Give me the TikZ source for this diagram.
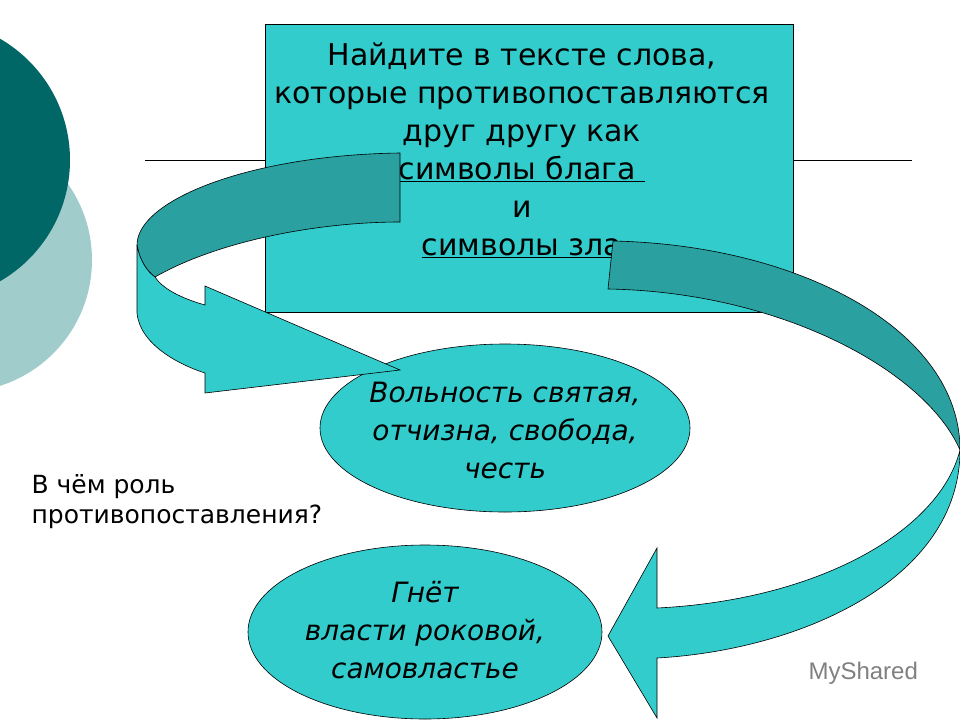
\documentclass[tikz,border=0pt]{standalone}
\usepackage{fontspec}
\usetikzlibrary{shapes.geometric}
\setmainfont{DejaVu Sans}
\newfontfamily\lib{Liberation Sans}
\begin{document}
\begin{tikzpicture}[x=1pt,y=-1pt,
  lt/.style={fill=teal1,draw=black,line width=0.6pt},
  dk/.style={fill=teal2,draw=black,line width=0.6pt}]
\definecolor{teal1}{RGB}{51,204,204}
\definecolor{teal2}{RGB}{42,160,160}
\definecolor{circd}{RGB}{0,102,102}
\definecolor{circl}{RGB}{160,204,204}
\useasboundingbox (0,0) rectangle (960,720);
\fill[white] (0,0) rectangle (960,720);
\begin{scope}
\clip (0,0) rectangle (960,720);
\fill[circl] (-40,260) circle (132);
\fill[circd] (-70,160) circle (140);
\end{scope}
\draw[line width=0.6pt] (145,160) -- (265,160) (793,160) -- (912,160);
\node[lt,rectangle,minimum width=528pt,minimum height=288pt,anchor=north west] (box) at (265,24) {};
\node[align=center,font=\fontsize{30}{38}\selectfont] (q) at (522,150)
 {Найдите в тексте слова,\\которые противопоставляются\\друг другу как\\\underline{символы блага }\\и\\\underline{символы зла}};
\node[lt,ellipse,minimum width=370pt,minimum height=168pt] (e1) at (505,428) {};
\node[align=center,font=\itshape\fontsize{28}{38}\selectfont] (t1) at (505,430)
 {Вольность святая,\\отчизна, свобода,\\честь};
\node[lt,ellipse,minimum width=354pt,minimum height=174pt] (e2) at (425,632) {};
\node[align=center,font=\itshape\fontsize{28}{38}\selectfont] (t2) at (425,630)
 {Гнёт\\власти роковой,\\самовластье};
\node[align=left,anchor=west,font=\fontsize{25}{30}\selectfont] (side) at (28,502)
 {В чём роль\\противопоставления?};
% left arrow
\draw[dk] (400,153) .. controls (250,155) and (137,200) .. (137,245)
  .. controls (140,262) and (148,272) .. (155,277)
  .. controls (220,240) and (320,222) .. (400,222) -- cycle;
\draw[lt] (137,245) -- (137,313) .. controls (140,345) and (180,365) .. (205,373)
  -- (205,393) -- (400,370) -- (205,286) -- (205,305)
  .. controls (180,298) and (162,288) .. (155,277)
  .. controls (148,272) and (140,262) .. (137,245);
% right arrow
\draw[dk] (613,241) .. controls (800,245) and (960,330) .. (960,450)
  .. controls (925,370) and (780,292) .. (608,289) -- cycle;
\draw[lt] (960,450) .. controls (960,580) and (800,650) .. (657,658)
  -- (657,718) -- (608,636) -- (657,548) -- (657,608)
  .. controls (820,600) and (940,530) .. (960,450);
\node[text=gray,font=\lib\fontsize{24}{26}\selectfont,anchor=west] (wm) at (805,673) {MyShared};
\end{tikzpicture}
\end{document}
